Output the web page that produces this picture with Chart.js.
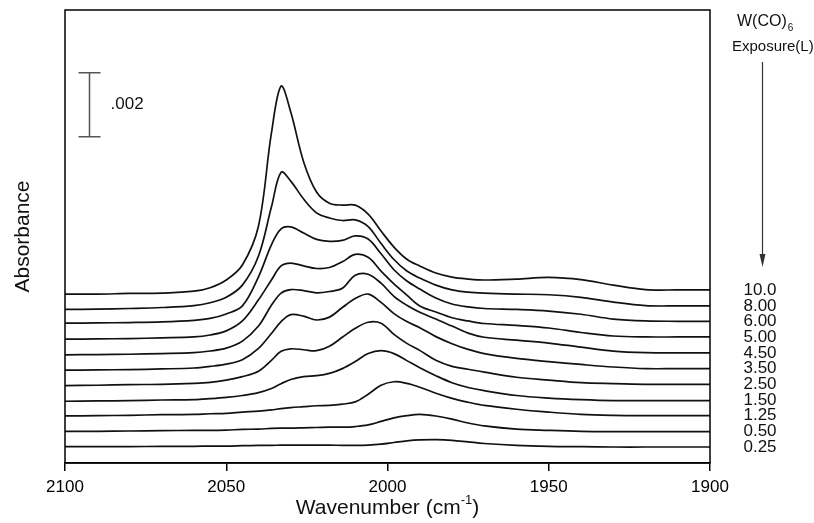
<!DOCTYPE html>
<html>
<head>
<meta charset="utf-8">
<title>W(CO)6 exposure - IR spectra</title>
<script src="https://cdn.jsdelivr.net/npm/chart.js@4.4.0/dist/chart.umd.min.js"></script>
<style>
  body { margin: 0; background: #fff; }
</style>
</head>
<body>
<canvas id="irChart" width="814" height="523"></canvas>
<script>
// wavenumber grid (cm-1), shared by every spectrum
const wavenumbers = [2100, 2090, 2080, 2070, 2060, 2055, 2050, 2045, 2040, 2036, 2033, 2030, 2026, 2022, 2018,
  2014, 2010, 2006, 2002, 1998, 1994, 1990, 1985, 1980, 1975, 1970, 1960, 1950, 1940, 1930, 1920, 1910, 1900];

// exposure in Langmuir, bottom trace first
const exposures = ["0.25", "0.50", "1.25", "1.50", "2.50", "3.50", "4.50", "5.00", "6.00", "8.00", "10.0"];

// vertical stacking offset of each trace (x 10^-3 absorbance)
const offsets = [0.51, 0.99, 1.47, 1.93, 2.42, 2.90, 3.38, 3.87, 4.37, 4.80, 5.28];

// absorbance (x 10^-3) for each exposure
const abs025 = [0, 0, 0, 0.01, 0.01, 0.02, 0.02, 0.03, 0.04, 0.04, 0.05, 0.05, 0.05, 0.05, 0.05, 0.04, 0.04, 0.05, 0.08, 0.13, 0.18, 0.21, 0.22, 0.20, 0.15, 0.10, 0.04, 0.01, 0, -0.01, -0.01, -0.01, -0.01];
const abs050 = [0, 0, 0.01, 0.02, 0.03, 0.03, 0.04, 0.06, 0.07, 0.09, 0.10, 0.10, 0.11, 0.12, 0.13, 0.13, 0.15, 0.20, 0.31, 0.42, 0.49, 0.53, 0.48, 0.38, 0.26, 0.17, 0.07, 0.03, 0, -0.01, -0.01, -0.01, -0.01];
const abs125 = [0, 0.01, 0.02, 0.04, 0.05, 0.07, 0.08, 0.12, 0.15, 0.19, 0.23, 0.26, 0.29, 0.32, 0.33, 0.37, 0.44, 0.68, 0.96, 1.07, 1.02, 0.90, 0.71, 0.55, 0.43, 0.33, 0.21, 0.12, 0.05, 0.02, 0.01, 0.01, 0.01];
const abs150 = [0, 0.01, 0.02, 0.04, 0.05, 0.08, 0.12, 0.18, 0.27, 0.40, 0.55, 0.68, 0.77, 0.80, 0.87, 1.02, 1.24, 1.49, 1.58, 1.49, 1.27, 1.05, 0.80, 0.58, 0.43, 0.33, 0.18, 0.10, 0.05, 0.02, 0.02, 0.02, 0.02];
const abs250 = [0, 0.01, 0.03, 0.04, 0.07, 0.10, 0.17, 0.28, 0.45, 0.79, 1.07, 1.15, 1.12, 1.09, 1.23, 1.51, 1.79, 1.98, 1.95, 1.60, 1.32, 1.10, 0.79, 0.60, 0.51, 0.42, 0.26, 0.17, 0.09, 0.06, 0.04, 0.04, 0.04];
const abs350 = [0, 0.01, 0.02, 0.04, 0.07, 0.12, 0.19, 0.33, 0.68, 1.15, 1.52, 1.74, 1.69, 1.57, 1.66, 1.96, 2.24, 2.38, 2.12, 1.77, 1.52, 1.33, 1.05, 0.83, 0.65, 0.52, 0.37, 0.27, 0.18, 0.10, 0.05, 0.05, 0.05];
const abs450 = [0, 0.01, 0.02, 0.04, 0.07, 0.12, 0.21, 0.43, 0.90, 1.55, 1.93, 2.04, 2.01, 1.94, 1.98, 2.08, 2.49, 2.52, 2.24, 1.83, 1.55, 1.33, 1.12, 0.90, 0.68, 0.55, 0.46, 0.37, 0.24, 0.12, 0.07, 0.06, 0.06];
const abs500 = [0, 0.01, 0.02, 0.04, 0.07, 0.13, 0.26, 0.57, 1.23, 1.85, 2.29, 2.38, 2.29, 2.21, 2.24, 2.42, 2.65, 2.56, 2.13, 1.73, 1.38, 1.04, 0.85, 0.67, 0.57, 0.49, 0.43, 0.35, 0.21, 0.10, 0.07, 0.07, 0.07];
const abs600 = [0, 0.01, 0.02, 0.04, 0.09, 0.15, 0.29, 0.54, 1.45, 2.45, 2.95, 3.01, 2.82, 2.62, 2.56, 2.59, 2.73, 2.63, 2.17, 1.67, 1.32, 1.07, 0.79, 0.60, 0.51, 0.46, 0.43, 0.38, 0.28, 0.13, 0.07, 0.06, 0.06];
const abs800 = [0, 0.01, 0.03, 0.06, 0.12, 0.21, 0.38, 0.76, 1.67, 3.20, 4.29, 4.01, 3.45, 3.02, 2.86, 2.78, 2.80, 2.59, 2.06, 1.56, 1.20, 0.98, 0.76, 0.61, 0.54, 0.51, 0.48, 0.46, 0.38, 0.23, 0.12, 0.11, 0.11];
const abs1000 = [0, 0, 0.02, 0.03, 0.09, 0.20, 0.44, 0.91, 2.13, 5.03, 6.50, 5.69, 4.13, 3.19, 2.84, 2.78, 2.78, 2.50, 1.97, 1.47, 1.09, 0.88, 0.66, 0.53, 0.47, 0.44, 0.47, 0.52, 0.45, 0.28, 0.14, 0.13, 0.13];

const spectra = [abs025, abs050, abs125, abs150, abs250, abs350, abs450, abs500, abs600, abs800, abs1000];

const FONT = '"Liberation Sans", Arial, Helvetica, sans-serif';

let datasets = spectra.map((s, i) => ({
    label: exposures[i],
    data: s.map((v, j) => ({ x: wavenumbers[j], y: offsets[i] + v })),
    borderColor: "#111",
    borderWidth: 1.7,
    pointRadius: 0,
    fill: false,
    tension: 0.35
}));

// frame, scale bar, axis titles and the exposure key on the right
const decorations = {
    id: "decorations",
    afterDraw(chart){
        const ctx = chart.ctx;
        const area = chart.chartArea;
        const xs = chart.scales.x, ys = chart.scales.y;
        ctx.save();

        ctx.strokeStyle = "#000";
        ctx.lineWidth = 1.5;
        ctx.strokeRect(area.left, area.top, area.right - area.left, area.bottom - area.top);

        // .002 absorbance bar
        const bx = Math.round(xs.getPixelForValue(2092.5)) + 0.5;
        const bLow = ys.getPixelForValue(10.2), bHigh = ys.getPixelForValue(12.2);
        ctx.strokeStyle = "#555";
        ctx.lineWidth = 1.5;
        ctx.beginPath();
        ctx.moveTo(bx, bLow); ctx.lineTo(bx, bHigh);
        ctx.moveTo(bx - 11, bLow); ctx.lineTo(bx + 11, bLow);
        ctx.moveTo(bx - 11, bHigh); ctx.lineTo(bx + 11, bHigh);
        ctx.stroke();
        ctx.fillStyle = "#111";
        ctx.font = "17px " + FONT;
        ctx.textAlign = "left";
        ctx.textBaseline = "middle";
        ctx.fillText(".002", bx + 21, (bLow + bHigh) / 2);

        // y title
        ctx.save();
        ctx.translate(23, (area.top + area.bottom) / 2);
        ctx.rotate(-Math.PI / 2);
        ctx.font = "21px " + FONT;
        ctx.textAlign = "center";
        ctx.textBaseline = "middle";
        ctx.fillText("Absorbance", 0, 0);
        ctx.restore();

        // x title with superscript
        ctx.textBaseline = "alphabetic";
        ctx.textAlign = "left";
        ctx.font = "21px " + FONT;
        const t1 = "Wavenumber (cm", t3 = ")";
        const w1 = ctx.measureText(t1).width, w3 = ctx.measureText(t3).width;
        ctx.font = "13px " + FONT;
        const w2 = ctx.measureText("-1").width;
        let tx = (area.left + area.right) / 2 - (w1 + w2 + w3) / 2;
        ctx.font = "21px " + FONT;
        ctx.fillText(t1, tx, 514);
        ctx.font = "13px " + FONT;
        ctx.fillText("-1", tx + w1, 504);
        ctx.font = "21px " + FONT;
        ctx.fillText(t3, tx + w1 + w2, 514);

        // key header
        ctx.font = "16px " + FONT;
        ctx.fillText("W(CO)", 737, 26);
        const wc = ctx.measureText("W(CO)").width;
        ctx.font = "10px " + FONT;
        ctx.fillText("6", 737 + wc + 1, 31);
        ctx.font = "15px " + FONT;
        ctx.fillText("Exposure(L)", 732, 51);

        // arrow
        ctx.strokeStyle = "#333";
        ctx.lineWidth = 1.2;
        ctx.beginPath();
        ctx.moveTo(762.5, 62); ctx.lineTo(762.5, 262);
        ctx.stroke();
        ctx.fillStyle = "#333";
        ctx.beginPath();
        ctx.moveTo(759.5, 254); ctx.lineTo(765.5, 254); ctx.lineTo(762.5, 267);
        ctx.closePath();
        ctx.fill();

        // exposure labels next to the end of each trace
        ctx.fillStyle = "#111";
        ctx.font = "17px " + FONT;
        ctx.textAlign = "center";
        ctx.textBaseline = "middle";
        chart.data.datasets.forEach((ds, i) => {
            const pts = chart.getDatasetMeta(i).data;
            const end = pts[pts.length - 1];
            ctx.fillText(ds.label, 760, end.y);
        });
        ctx.restore();
    }
};

new Chart("irChart", {
    type: "line",
    data: { datasets: datasets },
    options: {
        responsive: false,
        animation: false,
        devicePixelRatio: 1,
        layout: { padding: { left: 65, right: 104, top: 10, bottom: 0 } },
        plugins: {
            legend: { display: false },
            tooltip: { enabled: false }
        },
        scales: {
            x: {
                type: "linear",
                reverse: true,
                min: 1900,
                max: 2100,
                afterFit(scale){ scale.height = 60; },
                border: { display: true, color: "#000", width: 1.5 },
                grid: { drawOnChartArea: false, drawTicks: true, tickLength: 8, color: "#000", lineWidth: 1.5 },
                ticks: {
                    stepSize: 50,
                    padding: 6,
                    maxRotation: 0,
                    color: "#000",
                    font: { size: 17, family: FONT },
                    callback: (v) => String(v)
                }
            },
            y: {
                display: false,
                min: 0,
                max: 14.16
            }
        }
    },
    plugins: [decorations]
});
</script>
</body>
</html>
